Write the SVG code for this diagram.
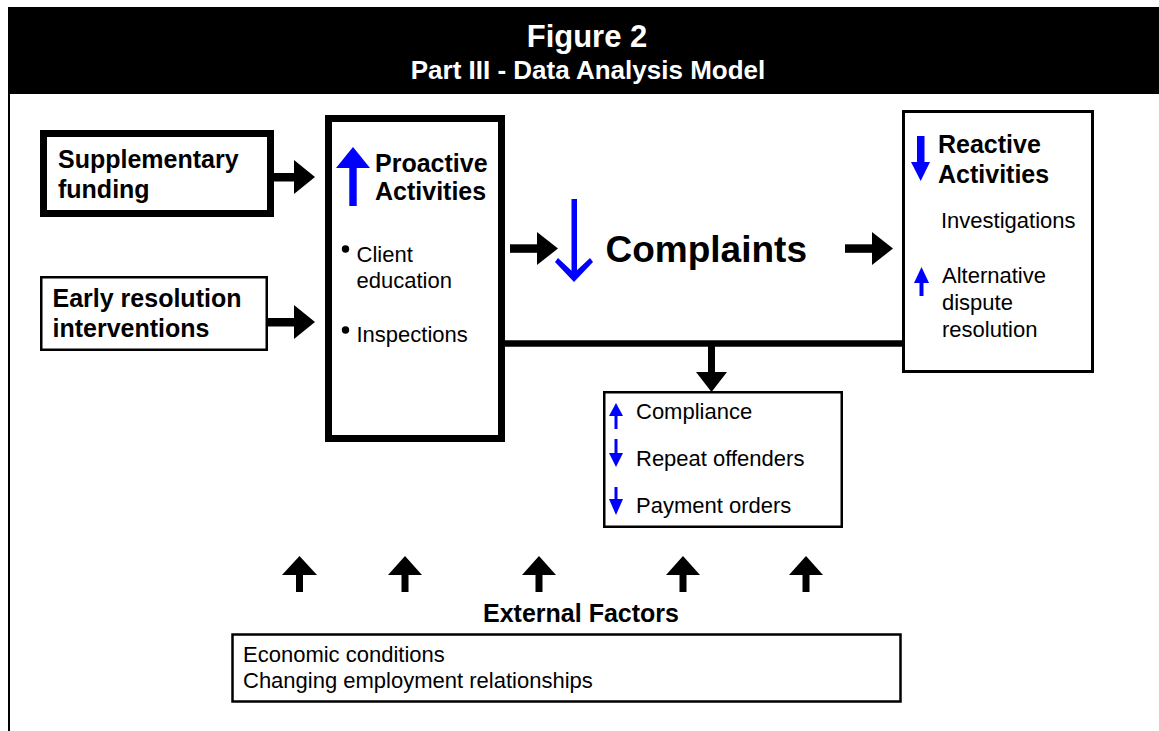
<svg xmlns="http://www.w3.org/2000/svg" width="1159" height="731" viewBox="0 0 1159 731">
<style>
text{font-family:"Liberation Sans",Arial,sans-serif;fill:#000}
.b{font-weight:bold;font-size:25px}
.r{font-size:22px}
.hd{fill:#fff;font-weight:bold;text-anchor:middle}
.box{fill:#fff;stroke:#000}
.blue{fill:#0000ff}
.blk{fill:#000}
</style>
<rect width="1159" height="731" fill="#fff"/>
<g id="header">
<rect x="8" y="7" width="1151" height="87" fill="#000"/>
<text class="hd" x="587" y="47" font-size="31">Figure 2</text>
<text class="hd" x="588" y="79" font-size="26">Part III - Data Analysis Model</text>
</g>
<line x1="9" y1="93" x2="9" y2="731" stroke="#000" stroke-width="2"/>

<g id="supplementary-funding">
<rect class="box" x="43.5" y="133.5" width="227" height="80" stroke-width="7"/>
<text class="b" x="58" y="168">Supplementary</text>
<text class="b" x="58" y="198">funding</text>
</g>

<g id="early-resolution">
<rect class="box" x="41.25" y="277.25" width="225.5" height="72.5" stroke-width="2.5"/>
<text class="b" x="52.5" y="307">Early resolution</text>
<text class="b" x="52.5" y="337">interventions</text>
</g>

<g id="proactive-activities">
<rect class="box" x="328.5" y="118.5" width="173" height="320" stroke-width="7"/>
<polygon class="blue" points="336,168 353,147 370,168"/>
<rect class="blue" x="349.3" y="167" width="7.4" height="39"/>
<text class="b" x="375" y="172">Proactive</text>
<text class="b" x="375" y="200">Activities</text>
<circle cx="345.5" cy="249" r="3.7"/>
<text class="r" x="356.5" y="262">Client</text>
<text class="r" x="356.5" y="288">education</text>
<circle cx="345.5" cy="330" r="3.7"/>
<text class="r" x="356.5" y="342">Inspections</text>
</g>

<g id="complaints">
<rect class="blue" x="571.5" y="199" width="5.5" height="74"/>
<polygon class="blue" points="574,282 555,262 558,258 574,273 590,258 593,262"/>
<text x="605.5" y="262" font-size="37" font-weight="bold">Complaints</text>
</g>

<g id="reactive-activities">
<rect class="box" x="903.5" y="111.5" width="189" height="260" stroke-width="3"/>
<rect class="blue" x="917" y="136" width="7.5" height="27"/>
<polygon class="blue" points="911,162 930,162 920.7,181"/>
<text class="b" x="938" y="153">Reactive</text>
<text class="b" x="938" y="183">Activities</text>
<text class="r" x="941" y="228" font-size="22.4">Investigations</text>
<polygon class="blue" points="914,283 929,283 921.5,267"/>
<rect class="blue" x="919.5" y="282" width="4" height="14"/>
<text class="r" x="942" y="283">Alternative</text>
<text class="r" x="942" y="310">dispute</text>
<text class="r" x="942" y="337">resolution</text>
</g>

<g id="outcomes">
<rect class="box" x="604.25" y="392.25" width="237.5" height="134.5" stroke-width="2.5"/>
<polygon class="blue" points="609,416 623,416 616,403"/>
<rect class="blue" x="614.5" y="415" width="3" height="14"/>
<text class="r" x="636" y="419">Compliance</text>
<rect class="blue" x="614.5" y="439" width="3" height="15"/>
<polygon class="blue" points="609,453 623,453 616,467"/>
<text class="r" x="636" y="466">Repeat offenders</text>
<rect class="blue" x="614.5" y="487" width="3" height="13"/>
<polygon class="blue" points="609,499 623,499 616,515"/>
<text class="r" x="636" y="513">Payment orders</text>
</g>

<g id="external-factors">
<text x="581" y="622" font-size="25" font-weight="bold" text-anchor="middle">External Factors</text>
<rect class="box" x="232.5" y="634.5" width="668" height="67" stroke-width="2.5"/>
<text class="r" x="243" y="662">Economic conditions</text>
<text class="r" x="243" y="688">Changing employment relationships</text>
</g>

<g id="connectors">
<rect class="blk" x="273" y="173" width="23" height="8.5"/>
<polygon class="blk" points="294,160 315,177 294,194"/>
<rect class="blk" x="267" y="318" width="29" height="8.5"/>
<polygon class="blk" points="294,305 315,322 294,339"/>
<rect class="blk" x="510" y="244.3" width="29" height="8.5"/>
<polygon class="blk" points="537,232 558,248.5 537,265"/>
<rect class="blk" x="845" y="244.3" width="29" height="8.5"/>
<polygon class="blk" points="872,232 893,248.5 872,265"/>
<line x1="504" y1="343.5" x2="903" y2="343.5" stroke="#000" stroke-width="6.5"/>
<rect class="blk" x="708" y="343" width="7" height="30"/>
<polygon class="blk" points="696,372 727,372 711.5,392"/>
<g id="external-arrows">
<polygon class="blk" points="282,575 317,575 299.5,556"/>
<rect class="blk" x="296" y="574" width="7" height="18"/>
<polygon class="blk" points="388,575 422,575 405,556"/>
<rect class="blk" x="401.5" y="574" width="7" height="18"/>
<polygon class="blk" points="522,575 556,575 539,556"/>
<rect class="blk" x="535.5" y="574" width="7" height="18"/>
<polygon class="blk" points="666,575 700,575 683,556"/>
<rect class="blk" x="679.5" y="574" width="7" height="18"/>
<polygon class="blk" points="789,575 823,575 806,556"/>
<rect class="blk" x="802.5" y="574" width="7" height="18"/>
</g>
</g>
</svg>
